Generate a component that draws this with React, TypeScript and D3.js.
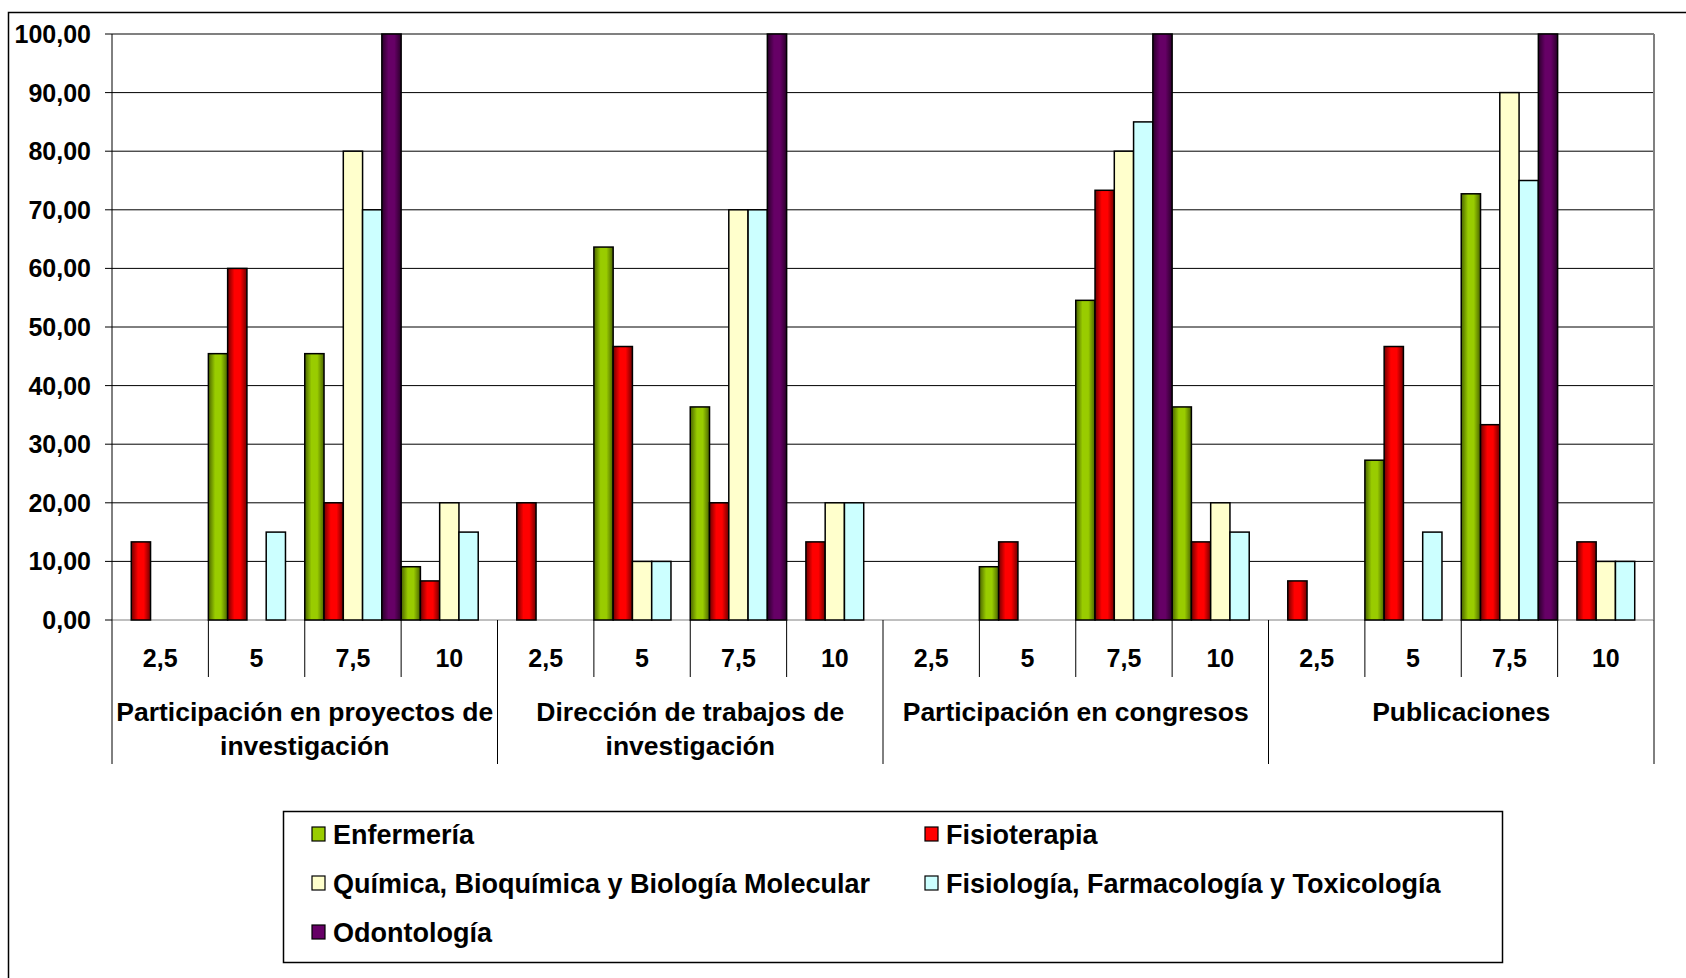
import React from 'react';
import * as d3 from 'd3';

const groups = [
  ['Participación en proyectos de', 'investigación'],
  ['Dirección de trabajos de', 'investigación'],
  ['Participación en congresos'],
  ['Publicaciones'],
];
const subLabels = ['2,5', '5', '7,5', '10'];
const seriesNames = [
  'Enfermería',
  'Fisioterapia',
  'Química, Bioquímica y Biología Molecular',
  'Fisiología, Farmacología y Toxicología',
  'Odontología',
];

// 16 values per series: 4 groups x 4 sub categories
const enfermeria = [0, 45.45, 45.45, 9.09, 0, 63.64, 36.36, 0, 0, 9.09, 54.55, 36.36, 0, 27.27, 72.73, 0];
const fisioterapia = [13.33, 60, 20, 6.67, 20, 46.67, 20, 13.33, 0, 13.33, 73.33, 13.33, 6.67, 46.67, 33.33, 13.33];
const quimica = [0, 0, 80, 20, 0, 10, 70, 20, 0, 0, 80, 20, 0, 0, 90, 10];
const fisiologia = [0, 15, 70, 15, 0, 10, 70, 20, 0, 0, 85, 15, 0, 15, 75, 10];
const odontologia = [0, 0, 100, 0, 0, 0, 100, 0, 0, 0, 100, 0, 0, 0, 100, 0];
const seriesValues = [enfermeria, fisioterapia, quimica, fisiologia, odontologia];

const yTicks = [0, 10, 20, 30, 40, 50, 60, 70, 80, 90, 100];

const fills = ['url(#gGreen)', 'url(#gRed)', '#ffffcc', '#ccffff', 'url(#gPurple)'];
const legendFills = ['#99cc00', '#ff0000', '#ffffcc', '#ccffff', '#660066'];

const W = 1686;
const H = 978;
const margin = { left: 112, right: 32, top: 34, bottom: 358 };
const FONT = '"Liberation Sans", Arial, sans-serif';

export default function App() {
  const cells = d3.range(groups.length * subLabels.length).map(String);
  const x0 = d3.scaleBand().domain(cells).range([margin.left, W - margin.right]).padding(0);
  const x1 = d3.scaleBand().domain(seriesNames).range([0, x0.bandwidth()]).padding(0);
  const y = d3.scaleLinear().domain([0, 100]).range([H - margin.bottom, margin.top]);
  const y0 = y(0);
  const groupW = x0.bandwidth() * subLabels.length;

  const legendRows = [
    [0, 1],
    [2, 3],
    [4],
  ];

  return (
    <svg width={W} height={H} style={{ position: 'absolute', left: 0, top: 0, background: '#fff' }} fontFamily={FONT}>
      <defs>
        {[
          ['gGreen', '#4a6400', '#99cc00'],
          ['gRed', '#700000', '#ff0000'],
          ['gPurple', '#2a002a', '#660066'],
        ].map(([id, dark, light]) => (
          <linearGradient key={id} id={id} x1="0" x2="1" y1="0" y2="0">
            <stop offset="0%" stopColor={dark} />
            <stop offset="35%" stopColor={light} />
            <stop offset="65%" stopColor={light} />
            <stop offset="100%" stopColor={dark} />
          </linearGradient>
        ))}
      </defs>

      {/* chart area border */}
      <rect x={8.5} y={12.5} width={W + 20} height={H + 20} fill="none" stroke="#000" strokeWidth={1.5} />

      {/* gridlines */}
      {yTicks.map(t => (
        <g key={t}>
          <line x1={margin.left} x2={W - margin.right} y1={y(t)} y2={y(t)} stroke={t === 100 || t === 0 ? '#808080' : '#000'} strokeWidth={t === 100 ? 2 : 1} />
          <line x1={margin.left - 7} x2={margin.left} y1={y(t)} y2={y(t)} stroke="#000" />
          <text x={91} y={y(t)} dy="0.36em" textAnchor="end" fontSize={25} fontWeight="bold">
            {d3.format('.2f')(t).replace('.', ',')}
          </text>
        </g>
      ))}
      <line x1={W - margin.right} x2={W - margin.right} y1={margin.top} y2={y0} stroke="#808080" strokeWidth={2} />
      <line x1={margin.left} x2={margin.left} y1={margin.top} y2={y0} stroke="#000" />

      {/* bars */}
      {seriesValues.map((vals, s) => (
        <g key={s}>
          {vals.map((v, i) =>
            v > 0 ? (
              <rect
                key={i}
                x={(x0(String(i)) as number) + (x1(seriesNames[s]) as number)}
                y={y(v)}
                width={x1.bandwidth()}
                height={y0 - y(v)}
                fill={fills[s]}
                stroke="#000"
                strokeWidth={1.5}
              />
            ) : null
          )}
        </g>
      ))}

      {/* category axis */}
      {cells.map((c, i) => {
        const xs = x0(c) as number;
        const isGroupStart = i % subLabels.length === 0;
        return (
          <g key={c}>
            <line x1={xs} x2={xs} y1={y0} y2={isGroupStart ? 764 : 677} stroke="#000" />
            <text x={xs + x0.bandwidth() / 2} y={667} textAnchor="middle" fontSize={25} fontWeight="bold">
              {subLabels[i % subLabels.length]}
            </text>
          </g>
        );
      })}
      <line x1={W - margin.right} x2={W - margin.right} y1={y0} y2={764} stroke="#000" />
      {groups.map((g, gi) => (
        <text key={gi} x={margin.left + groupW * gi + groupW / 2} textAnchor="middle" fontSize={26.5} fontWeight="bold">
          {g.map((line, li) => (
            <tspan key={li} x={margin.left + groupW * gi + groupW / 2} y={721 + li * 34}>
              {line}
            </tspan>
          ))}
        </text>
      ))}

      {/* legend */}
      <rect x={283.5} y={811.5} width={1219} height={151} fill="#fff" stroke="#000" strokeWidth={1.5} />
      {legendRows.map((row, r) =>
        row.map((s, c) => {
          const lx = c === 0 ? 312 : 925;
          const ly = 834 + r * 49;
          return (
            <g key={s}>
              <rect x={lx} y={ly - 7} width={13} height={14} fill={legendFills[s]} stroke="#000" strokeWidth={1.2} />
              <text x={lx + 21} y={ly} dy="0.36em" fontSize={27} fontWeight="bold">
                {seriesNames[s]}
              </text>
            </g>
          );
        })
      )}
    </svg>
  );
}
